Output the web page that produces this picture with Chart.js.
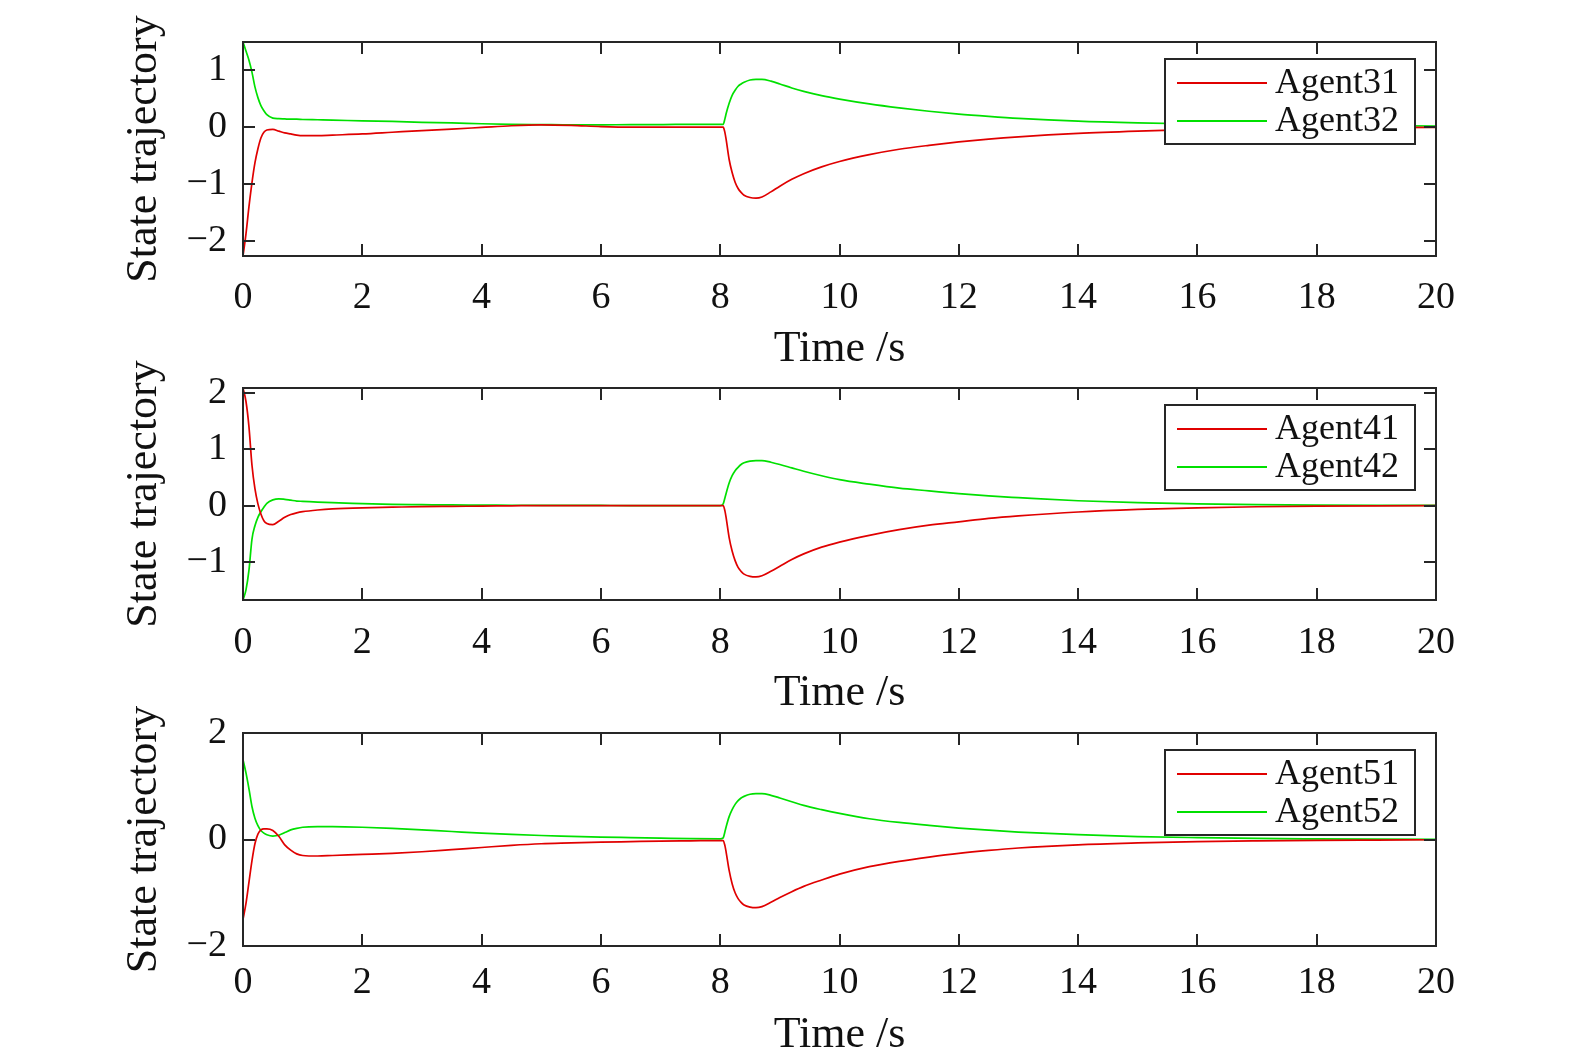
<!DOCTYPE html>
<html>
<head>
<meta charset="utf-8">
<script src="https://cdn.jsdelivr.net/npm/chart.js@4.4.0/dist/chart.umd.min.js"></script>
<style>
  html, body { margin: 0; padding: 0; background: #ffffff; }
  #wrap { position: relative; width: 1575px; height: 1056px; overflow: hidden; }
  canvas { position: absolute; left: 0; top: 0; }
</style>
</head>
<body>
<div id="wrap">
  <canvas id="c1" width="1575" height="1056"></canvas>
  <canvas id="c2" width="1575" height="1056"></canvas>
  <canvas id="c3" width="1575" height="1056"></canvas>
</div>
<script>
// ---------------- DATA ----------------
const timeS = [0, 0.05, 0.1, 0.15, 0.2, 0.25, 0.3, 0.35, 0.4, 0.5, 0.6, 0.7, 0.8, 0.9, 1.0, 1.25, 1.5, 2, 2.5, 3, 3.5, 4, 4.5, 5, 5.5, 6, 6.5, 7, 7.5, 8,
               8.05, 8.08, 8.1, 8.15, 8.2, 8.25, 8.3, 8.35, 8.4, 8.5, 8.6, 8.7, 8.85, 9.0, 9.2, 9.4, 9.7, 10, 10.5, 11, 11.5, 12, 12.5, 13, 14, 15, 16, 17, 18, 19, 20];

const agent31 = [-2.27, -1.88, -1.4, -0.98, -0.63, -0.38, -0.19, -0.09, -0.05, -0.04, -0.07, -0.1, -0.12, -0.14, -0.15, -0.15, -0.14, -0.12, -0.09, -0.06, -0.035, -0.005, 0.025, 0.04, 0.03, 0.01, 0.0, 0.0, 0.0, 0.0,
                 0.0, -0.1, -0.22, -0.57, -0.8, -0.97, -1.08, -1.15, -1.2, -1.24, -1.25, -1.23, -1.14, -1.04, -0.92, -0.82, -0.7, -0.605, -0.485, -0.39, -0.32, -0.26, -0.21, -0.17, -0.11, -0.07, -0.04, -0.025, -0.015, -0.008, -0.004];
const agent32 = [1.5, 1.34, 1.18, 0.97, 0.71, 0.52, 0.38, 0.29, 0.22, 0.16, 0.15, 0.145, 0.14, 0.14, 0.135, 0.13, 0.125, 0.11, 0.1, 0.085, 0.075, 0.06, 0.05, 0.045, 0.04, 0.04, 0.045, 0.045, 0.05, 0.05,
                 0.05, 0.15, 0.24, 0.42, 0.56, 0.65, 0.72, 0.76, 0.79, 0.83, 0.84, 0.84, 0.81, 0.76, 0.69, 0.63, 0.555, 0.495, 0.41, 0.34, 0.28, 0.23, 0.19, 0.155, 0.105, 0.075, 0.055, 0.04, 0.03, 0.025, 0.02];

const agent41 = [2.09, 1.85, 1.4, 0.72, 0.3, 0.03, -0.15, -0.27, -0.32, -0.34, -0.28, -0.21, -0.16, -0.13, -0.11, -0.08, -0.06, -0.04, -0.03, -0.02, -0.015, -0.01, -0.005, 0.0, 0.0, 0.0, 0.0, 0.0, 0.0, 0.0,
                 0.0, -0.1, -0.22, -0.57, -0.81, -0.98, -1.1, -1.17, -1.22, -1.26, -1.27, -1.25, -1.17, -1.08, -0.96, -0.86, -0.74, -0.65, -0.53, -0.43, -0.35, -0.29, -0.23, -0.185, -0.115, -0.07, -0.04, -0.022, -0.012, -0.006, -0.003];
const agent42 = [-1.68, -1.5, -1.15, -0.6, -0.36, -0.21, -0.11, -0.03, 0.04, 0.1, 0.12, 0.11, 0.095, 0.08, 0.075, 0.06, 0.05, 0.035, 0.02, 0.015, 0.01, 0.008, 0.005, 0.003, 0.002, 0.001, 0.0, 0.0, 0.0, 0.0,
                 0.03, 0.14, 0.22, 0.4, 0.53, 0.62, 0.68, 0.73, 0.76, 0.79, 0.8, 0.8, 0.77, 0.73, 0.67, 0.61, 0.53, 0.46, 0.38, 0.31, 0.26, 0.21, 0.17, 0.14, 0.085, 0.05, 0.028, 0.015, 0.008, 0.004, 0.002];

const agent51 = [-1.5, -1.2, -0.8, -0.4, -0.08, 0.1, 0.18, 0.2, 0.2, 0.17, 0.06, -0.1, -0.2, -0.27, -0.3, -0.31, -0.3, -0.28, -0.26, -0.23, -0.19, -0.15, -0.11, -0.08, -0.065, -0.05, -0.04, -0.03, -0.025, -0.02,
                 -0.02, -0.12, -0.24, -0.58, -0.83, -1.0, -1.11, -1.18, -1.23, -1.27, -1.28, -1.26, -1.18, -1.09, -0.98, -0.88, -0.76, -0.65, -0.51, -0.41, -0.33, -0.26, -0.205, -0.16, -0.1, -0.065, -0.04, -0.025, -0.015, -0.01, -0.005];
const agent52 = [1.5, 1.25, 0.95, 0.62, 0.4, 0.26, 0.17, 0.12, 0.09, 0.065, 0.08, 0.13, 0.18, 0.21, 0.23, 0.24, 0.24, 0.23, 0.21, 0.18, 0.15, 0.12, 0.095, 0.075, 0.06, 0.045, 0.035, 0.025, 0.015, 0.01,
                 0.03, 0.15, 0.24, 0.43, 0.56, 0.66, 0.73, 0.78, 0.81, 0.85, 0.86, 0.86, 0.83, 0.78, 0.71, 0.64, 0.56, 0.49, 0.39, 0.32, 0.265, 0.215, 0.175, 0.14, 0.09, 0.055, 0.035, 0.02, 0.012, 0.006, 0.003];

const xTicks = [0, 2, 4, 6, 8, 10, 12, 14, 16, 18, 20];
const yTicks1 = [-2, -1, 0, 1];
const yTicks2 = [-1, 0, 1, 2];
const yTicks3 = [-2, 0, 2];
const yRange1 = [-2.27, 1.5];
const yRange2 = [-1.68, 2.09];
const yRange3 = [-2, 2];
const labels1 = ['Agent31', 'Agent32'];
const labels2 = ['Agent41', 'Agent42'];
const labels3 = ['Agent51', 'Agent52'];

// ---------------- STYLE ----------------
const FONT = "'Liberation Serif', 'Times New Roman', serif";
const RED = '#e00000';
const GREEN = '#00e000';
const AXIS = '#262626';

const framePlugin = {
  id: 'frame',
  afterDraw(chart) {
    const ctx = chart.ctx;
    const a = chart.chartArea;
    const xs = chart.scales.x, ys = chart.scales.y;
    ctx.save();
    ctx.strokeStyle = AXIS;
    ctx.lineWidth = 2;
    const TL = 12;
    ctx.beginPath();
    xs.ticks.forEach(t => {
      const px = Math.round(xs.getPixelForValue(t.value));
      ctx.moveTo(px, a.bottom); ctx.lineTo(px, a.bottom - TL);
      ctx.moveTo(px, a.top); ctx.lineTo(px, a.top + TL);
    });
    ys.ticks.forEach(t => {
      const py = Math.round(ys.getPixelForValue(t.value));
      ctx.moveTo(a.left, py); ctx.lineTo(a.left + TL, py);
      ctx.moveTo(a.right, py); ctx.lineTo(a.right - TL, py);
    });
    ctx.stroke();
    ctx.strokeRect(a.left, a.top, a.right - a.left, a.bottom - a.top);

    // legend box (top-right inside the axes)
    const bw = 250, bh = 85;
    const bx = a.right - 21 - bw, by = a.top + 17;
    ctx.fillStyle = '#ffffff';
    ctx.fillRect(bx, by, bw, bh);
    ctx.strokeRect(bx, by, bw, bh);
    ctx.font = "36px " + FONT;
    ctx.textBaseline = 'middle';
    ctx.textAlign = 'left';
    chart.data.datasets.forEach((ds, i) => {
      const ly = by + 24 + i * 38;
      ctx.strokeStyle = ds.borderColor;
      ctx.lineWidth = 2;
      ctx.beginPath();
      ctx.moveTo(bx + 12, ly); ctx.lineTo(bx + 102, ly);
      ctx.stroke();
      ctx.fillStyle = '#111111';
      ctx.fillText(ds.label, bx + 110, ly + 1);
    });
    ctx.restore();
  }
};

function fmt(v) { return String(v).replace('-', '\u2212'); }

function makeChart(id, series, names, yRange, yTicks, padTop, xHeight, padBottom, xPad, titleShift) {
  const datasets = series.map((s, i) => ({
    label: names[i],
    data: timeS.map((t, k) => ({ x: t, y: s[k] })),
    borderColor: i === 0 ? RED : GREEN,
    borderWidth: 1.7,
    pointRadius: 0,
    cubicInterpolationMode: 'monotone',
    fill: false
  }));
  return new Chart(document.getElementById(id), {
    type: 'line',
    data: { datasets },
    options: {
      responsive: false,
      animation: false,
      devicePixelRatio: 1,
      layout: { padding: { left: 117, right: 139, top: padTop, bottom: padBottom } },
      plugins: { legend: { display: false }, tooltip: { enabled: false } },
      scales: {
        x: {
          type: 'linear', min: 0, max: 20,
          afterBuildTicks: s => { s.ticks = xTicks.map(v => ({ value: v })); },
          afterFit: s => { s.height = xHeight; },
          grid: { display: false, drawTicks: false },
          border: { display: false },
          ticks: { color: '#111111', font: { family: FONT, size: 38 }, padding: xPad, maxRotation: 0, callback: fmt },
          title: { display: true, text: 'Time /s', color: '#111111', font: { family: FONT, size: 44 }, padding: { top: 0, bottom: -titleShift } }
        },
        y: {
          type: 'linear', min: yRange[0], max: yRange[1],
          afterBuildTicks: s => { s.ticks = yTicks.map(v => ({ value: v })); },
          afterFit: s => { s.width = 126; },
          grid: { display: false, drawTicks: false },
          border: { display: false },
          ticks: { color: '#111111', font: { family: FONT, size: 38 }, padding: 16, callback: fmt },
          title: { display: true, text: 'State trajectory', color: '#111111', font: { family: FONT, size: 44 }, padding: { top: 1, bottom: 0 } }
        }
      }
    },
    plugins: [framePlugin]
  });
}

makeChart('c1', [agent31, agent32], labels1, yRange1, yTicks1, 42, 118, 682, 19, 2);
makeChart('c2', [agent41, agent42], labels2, yRange2, yTicks2, 388, 117, 339, 20, 3);
makeChart('c3', [agent51, agent52], labels3, yRange3, yTicks3, 733, 110, 0, 14, 6);
</script>
</body>
</html>
